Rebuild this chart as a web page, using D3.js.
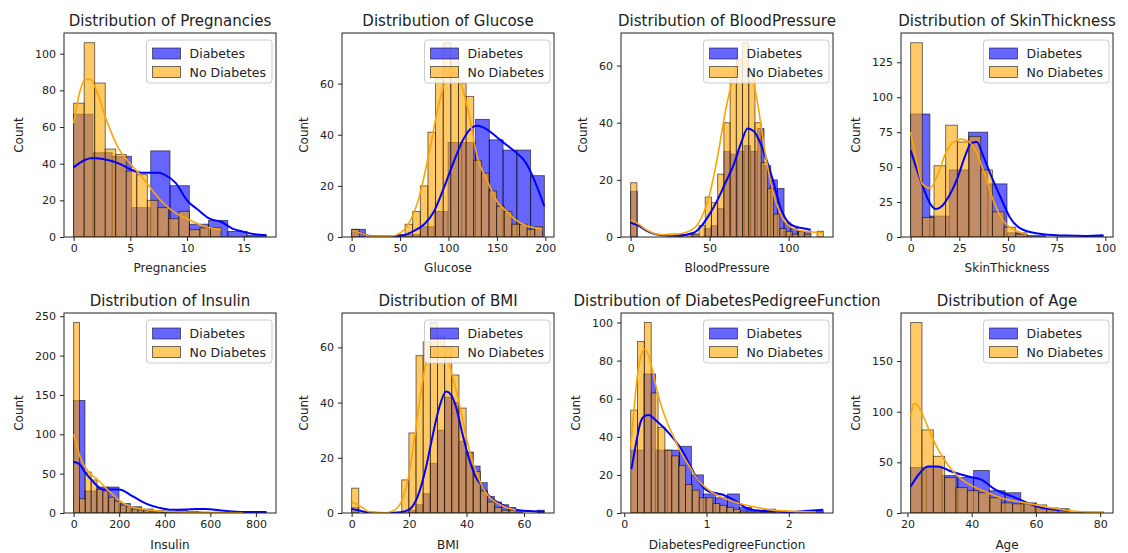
<!DOCTYPE html>
<html><head><meta charset="utf-8">
<script src="https://cdn.jsdelivr.net/npm/d3@7"></script>
<style>body{margin:0;background:#fff;} svg{display:block;font-family:"DejaVu Sans",sans-serif;}</style>
</head><body><svg id="c" width="1128" height="553"></svg>
<script>
// ---------- DATA ----------
const features = ["Pregnancies","Glucose","BloodPressure","SkinThickness","Insulin","BMI","DiabetesPedigreeFunction","Age"];
const seriesNames = ["Diabetes","No Diabetes"];

// Pregnancies
const pregDiabRange = [0,17];
const pregDiabCounts = [67,46,44,16,47,28,7,9,3,1];
const pregNoRange = [0,13];
const pregNoCounts = [73,106,84,48,45,36,34,20,16,10,14,4,5,5];
const pregDiabKde = [[0,38],[1,42],[1.5,43],[2,43],[3,42],[4,40],[5,37],[6,35],[7,35],[7.5,35],[8,34],[9,29.5],[10,20],[11,14.7],[12,10],[13,8.3],[14,4.6],[15,2.8],[16,1.5],[17,1]];
const pregNoKde = [[0,62],[0.5,78],[1,86],[1.5,86],[2,80],[3,62],[4,48],[5,40],[6,33],[7,25],[8,18],[9,13],[10,10],[11,7],[12,5],[13,4]];
const pregXTicks = [0,5,10,15];
const pregYTicks = [0,20,40,60,80,100];

// Glucose
const gluDiabRange = [0,199];
const gluDiabCounts = [3,0,0,0,1,4,10,37,37,46,38,34,34,24];
const gluNoRange = [0,197];
const gluNoCounts = [3,0,0,0,0,0,1,5,10,20,41,62,76,70,60,55,30,25,18,12,10,5,5,3,4];
const gluDiabKde = [[0,2.5],[10,1.5],[20,0.3],[40,0.2],[55,0.8],[65,2.5],[75,5],[85,10],[95,19],[105,29],[115,38],[125,43],[130,43.5],[140,42],[150,39],[160,36],[170,33],[180,29],[190,21],[199,12]];
const gluNoKde = [[0,2.5],[10,1.5],[20,0.3],[40,0.3],[50,1.5],[60,6],[70,16],[80,33],[90,52],[100,64],[105,66],[110,63],[120,50],[130,31],[140,22],[150,14],[160,10],[170,6.5],[180,4.5],[190,3.5],[197,3]];
const gluXTicks = [0,50,100,150,200];
const gluYTicks = [0,20,40,60];

// BloodPressure
const bpDiabRange = [0,114];
const bpDiabCounts = [16,0,0,0,0,0,0,1,0,1,0,3,4,10,30,29,30,32,30,38,25,20,17,5,3,2,2];
const bpNoRange = [0,122];
const bpNoCounts = [19,0,0,0,0,0,1,1,0,1,1,4,14,12,22,40,55,62,68,58,40,26,17,8,3,2,1,2,1,0,2];
const bpDiabKde = [[0,5],[5,4],[10,2.2],[20,0.6],[30,0.5],[40,1.5],[45,4],[50,8],[55,13],[60,19],[65,25],[70,33],[74,38],[78,37],[82,33],[86,27],[90,20],[95,10],[100,5],[105,3.5],[110,3],[114,2.5]];
const bpNoKde = [[0,6],[5,4.5],[10,2.5],[20,0.8],[30,1],[40,3],[45,7],[50,15],[55,28],[60,44],[65,56],[70,62],[75,60],[80,48],[85,30],[90,16],[95,8],[100,4],[110,2],[122,1.5]];
const bpXTicks = [0,50,100];
const bpYTicks = [0,20,40,60];

// SkinThickness
const skinDiabRange = [0,99];
const skinDiabCounts = [88,15,48,75,38,3,1,0,0,1];
const skinNoRange = [0,60];
const skinNoCounts = [139,14,51,80,68,72,48,18,7,2];
const skinDiabKde = [[0,62],[4,45],[8,30],[10,24],[13,20],[16,22],[20,30],[24,42],[28,58],[31,67],[34,68],[37,59],[41,45],[46,29],[51,14],[58,5],[68,2],[80,1],[90,0.8],[99,1.2]];
const skinNoKde = [[0,75],[3,55],[6,38],[10,35],[14,45],[18,60],[22,68],[26,70],[30,68],[34,60],[38,45],[42,28],[46,15],[50,8],[55,4],[60,2]];
const skinXTicks = [0,25,50,75,100];
const skinYTicks = [0,25,50,75,100,125];

// Insulin
const insDiabRange = [0,846];
const insDiabCounts = [143,28,33,33,12,8,5,3,1,3,2,1,0,0,0,1,1];
const insNoRange = [0,744];
const insNoCounts = [242,18,52,42,30,28,20,15,10,8,5,4,3,2,2,1,1,1,1,0,0,1,0,0,1,0,0,0,1];
const insDiabKde = [[0,65],[25,62],[50,52],[85,40],[128,30],[160,30],[200,30],[260,21],[318,12],[377,6.5],[430,4],[493,4.3],[540,5],[581,5],[640,3.5],[698,2],[760,1.3],[846,1.3]];
const insNoKde = [[0,100],[15,85],[30,70],[58,55],[85,47],[114,40],[140,32],[170,24],[200,16],[250,8],[300,5],[350,3],[400,2],[500,1],[600,0.5],[744,0.3]];
const insXTicks = [0,200,400,600,800];
const insYTicks = [0,50,100,150,200,250];

// BMI
const bmiDiabRange = [0,67.1];
const bmiDiabCounts = [2,0,0,0,0,0,0,0,1,3,7,18,30,42,40,26,22,17,11,6,4,3,2,1,0,0,1];
const bmiNoRange = [0,57.3];
const bmiNoCounts = [9,0,0,0,0,0,0,12,29,57,62,69,64,60,50,38,22,15,8,4,2,1,1];
const bmiDiabKde = [[0,1.5],[3,0.8],[6,0.2],[12,0],[17,0.3],[20,1.2],[23,6],[26,17],[28,27],[30.6,38.6],[32.9,44],[34.5,43],[36.3,38.6],[38.5,29],[41,19.3],[43,13.5],[45.6,9.6],[48,6],[51.3,3.6],[57,1.2],[62,0.7],[67,0.5]];
const bmiNoKde = [[0,4],[3,2.5],[6,0.5],[12,0.1],[16,2],[18,6],[20,14],[22,28],[24,43],[26,55],[28,61],[30,62],[32,60],[34,54],[36,46],[38,37],[40,27],[42,19],[44,13],[47,7],[50,4],[54,2],[57.3,1]];
const bmiXTicks = [0,20,40,60];
const bmiYTicks = [0,20,40,60];

// DiabetesPedigreeFunction
const dpfDiabRange = [0.088,2.42];
const dpfDiabCounts = [33,73,33,33,35,20,10,8,10,3,1,2,0,0,1,1];
const dpfNoRange = [0.078,2.329];
const dpfNoCounts = [54,90,100,63,45,33,30,25,15,12,8,8,5,4,3,2,1,1,1,0,1,0,0,0,0,0,1];
const dpfDiabKde = [[0.088,23],[0.15,38],[0.2,48],[0.25,51],[0.3,51.5],[0.35,50],[0.4,48],[0.5,44],[0.6,39],[0.7,33],[0.8,25],[0.9,17],[1.0,12],[1.1,10.5],[1.2,9.6],[1.3,7.5],[1.4,5],[1.5,2.2],[1.7,1],[2.0,0.5],[2.2,1],[2.42,1.7]];
const dpfNoKde = [[0.078,35],[0.12,55],[0.16,72],[0.2,82],[0.25,86],[0.3,82],[0.35,74],[0.4,64],[0.5,50],[0.6,40],[0.7,31],[0.8,24],[0.9,17],[1.0,13],[1.1,10],[1.2,8],[1.4,5],[1.6,3],[1.8,1.5],[2.0,1],[2.329,0.5]];
const dpfXTicks = [0,1,2];
const dpfYTicks = [0,20,40,60,80,100];

// Age
const ageDiabRange = [21,70];
const ageDiabCounts = [45,45,37,35,42,22,20,10,4,4];
const ageNoRange = [21,81];
const ageNoCounts = [188,82,56,35,25,22,20,15,10,9,9,8,5,4,1,1,1];
const ageDiabKde = [[21,26],[23.5,38],[26.3,46],[29.5,46],[33.7,41],[39,36],[43,33],[47.4,23],[52.6,16.4],[56.3,11.5],[60,6.6],[66,3.3],[70,2.3]];
const ageNoKde = [[21,95],[22,108],[23.5,105],[25,95],[27,80],[29,66],[31,55],[34,42],[37,33],[40,27],[45,20],[50,14],[55,11],[60,8],[65,5],[70,2.5],[75,1.2],[81,0.5]];
const ageXTicks = [20,40,60,80];
const ageYTicks = [0,50,100,150];

// ---------- BUILD ----------
const panels = [
  {dR:pregDiabRange,dC:pregDiabCounts,nR:pregNoRange,nC:pregNoCounts,dK:pregDiabKde,nK:pregNoKde,xt:pregXTicks,yt:pregYTicks},
  {dR:gluDiabRange,dC:gluDiabCounts,nR:gluNoRange,nC:gluNoCounts,dK:gluDiabKde,nK:gluNoKde,xt:gluXTicks,yt:gluYTicks},
  {dR:bpDiabRange,dC:bpDiabCounts,nR:bpNoRange,nC:bpNoCounts,dK:bpDiabKde,nK:bpNoKde,xt:bpXTicks,yt:bpYTicks},
  {dR:skinDiabRange,dC:skinDiabCounts,nR:skinNoRange,nC:skinNoCounts,dK:skinDiabKde,nK:skinNoKde,xt:skinXTicks,yt:skinYTicks},
  {dR:insDiabRange,dC:insDiabCounts,nR:insNoRange,nC:insNoCounts,dK:insDiabKde,nK:insNoKde,xt:insXTicks,yt:insYTicks},
  {dR:bmiDiabRange,dC:bmiDiabCounts,nR:bmiNoRange,nC:bmiNoCounts,dK:bmiDiabKde,nK:bmiNoKde,xt:bmiXTicks,yt:bmiYTicks},
  {dR:dpfDiabRange,dC:dpfDiabCounts,nR:dpfNoRange,nC:dpfNoCounts,dK:dpfDiabKde,nK:dpfNoKde,xt:dpfXTicks,yt:dpfYTicks},
  {dR:ageDiabRange,dC:ageDiabCounts,nR:ageNoRange,nC:ageNoCounts,dK:ageDiabKde,nK:ageNoKde,xt:ageXTicks,yt:ageYTicks}
];

const svg = d3.select("#c");
const colLeft = [64,342,621,901], W = 212;
const rowTop = [33,313], rowBot = [237,513];
const xLabelOff = [35,36];
const BLUE = "#0000ff", ORANGE = "#ffa500", ALPHA = 0.6;
const TICK_FS = 11, LABEL_FS = 12, TITLE_FS = 15, LEG_FS = 12.5;

panels.forEach((p,i) => {
  const r = Math.floor(i/4), c = i%4;
  const L = colLeft[c], R = L+W, T = rowTop[r], B = rowBot[r];
  const lo = Math.min(p.dR[0],p.nR[0]), hi = Math.max(p.dR[1],p.nR[1]);
  const pad = (hi-lo)*0.05;
  const x = d3.scaleLinear().domain([lo-pad,hi+pad]).range([L,R]);
  const ymax = 1.05*d3.max([...p.dC,...p.nC,...p.dK.map(d=>d[1]),...p.nK.map(d=>d[1])]);
  const y = d3.scaleLinear().domain([0,ymax]).range([B,T]);
  const g = svg.append("g");
  const clipId = "clip"+i;
  svg.append("clipPath").attr("id",clipId).append("rect").attr("x",L).attr("y",T).attr("width",W).attr("height",B-T);
  const plot = g.append("g").attr("clip-path",`url(#${clipId})`);

  function bars(range,counts,color){
    const n = counts.length;
    const edges = d3.range(n+1).map(k => range[0]+(range[1]-range[0])*k/n);
    plot.append("g").selectAll("rect")
      .data(counts.map((v,k)=>({v,a:edges[k],b:edges[k+1]})).filter(d=>d.v>0))
      .join("rect")
      .attr("x",d=>x(d.a)).attr("width",d=>x(d.b)-x(d.a))
      .attr("y",d=>y(d.v)).attr("height",d=>y(0)-y(d.v))
      .attr("fill",color).attr("fill-opacity",ALPHA)
      .attr("stroke","#000").attr("stroke-opacity",0.6).attr("stroke-width",0.9);
  }
  bars(p.dR,p.dC,BLUE);
  bars(p.nR,p.nC,ORANGE);
  const line = d3.line().x(d=>x(d[0])).y(d=>y(d[1])).curve(d3.curveMonotoneX);
  plot.append("path").attr("d",line(p.dK)).attr("fill","none").attr("stroke",BLUE).attr("stroke-width",2);
  plot.append("path").attr("d",line(p.nK)).attr("fill","none").attr("stroke",ORANGE).attr("stroke-width",1.6);

  // axes
  const xa = g.append("g").attr("transform",`translate(0,${B})`)
    .call(d3.axisBottom(x).tickValues(p.xt).tickSize(4).tickPadding(3).tickFormat(d3.format("~g")));
  const ya = g.append("g").attr("transform",`translate(${L},0)`)
    .call(d3.axisLeft(y).tickValues(p.yt).tickSize(4).tickPadding(4).tickFormat(d3.format("~g")));
  [xa,ya].forEach(a => {
    a.select(".domain").remove();
    a.selectAll("text").attr("font-size",TICK_FS).attr("fill","#222").attr("font-family","DejaVu Sans");
    a.selectAll("line").attr("stroke","#222");
  });
  // spines
  g.append("rect").attr("x",L).attr("y",T).attr("width",W).attr("height",B-T)
    .attr("fill","none").attr("stroke","#222").attr("stroke-width",1);

  // labels
  g.append("text").attr("x",(L+R)/2).attr("y",B+xLabelOff[r]).attr("text-anchor","middle")
    .attr("font-size",LABEL_FS).attr("fill","#222").text(features[i]);
  const bb = ya.node().getBBox();   // local to the axis group (origin at L)
  const ly = (T+B)/2, lx = L + bb.x - 16;
  g.append("text").attr("x",lx).attr("y",ly).attr("transform",`rotate(-90,${lx},${ly})`).attr("text-anchor","middle")
    .attr("dy","0.35em").attr("font-size",LABEL_FS).attr("fill","#222").text("Count");
  g.append("text").attr("x",(L+R)/2).attr("y",T-7.5).attr("text-anchor","middle")
    .attr("font-size",TITLE_FS).attr("fill","#222").text("Distribution of "+features[i]);

  // legend
  const lg = g.append("g");
  const box = lg.append("rect");
  const padL = 6, hw = 28, gap = 9, bh = 43;
  const by = T + 7;
  const texts = seriesNames.map((name,k) => lg.append("text").attr("font-size",LEG_FS).attr("fill","#222")
    .attr("dy","0.35em").attr("x",R-100).attr("y",by+14+k*18.5).text(name));
  const tw = d3.max(texts, t => t.node().getComputedTextLength());
  const bw = padL + hw + gap + tw + 6;
  const bx = R - 4 - bw;
  box.attr("x",bx).attr("y",by).attr("width",bw).attr("height",bh).attr("rx",3)
    .attr("fill","#fff").attr("fill-opacity",0.8).attr("stroke","#ccc").attr("stroke-width",1);
  texts.forEach((t,k) => {
    const cy = by + 14 + k*18.5;
    lg.append("rect").attr("x",bx+padL).attr("y",cy-6).attr("width",hw).attr("height",11)
      .attr("fill",k===0?BLUE:ORANGE).attr("fill-opacity",ALPHA)
      .attr("stroke","#000").attr("stroke-opacity",0.6).attr("stroke-width",0.9);
    t.attr("x",bx+padL+hw+gap).attr("y",cy).raise();
  });
});
</script></body></html>
